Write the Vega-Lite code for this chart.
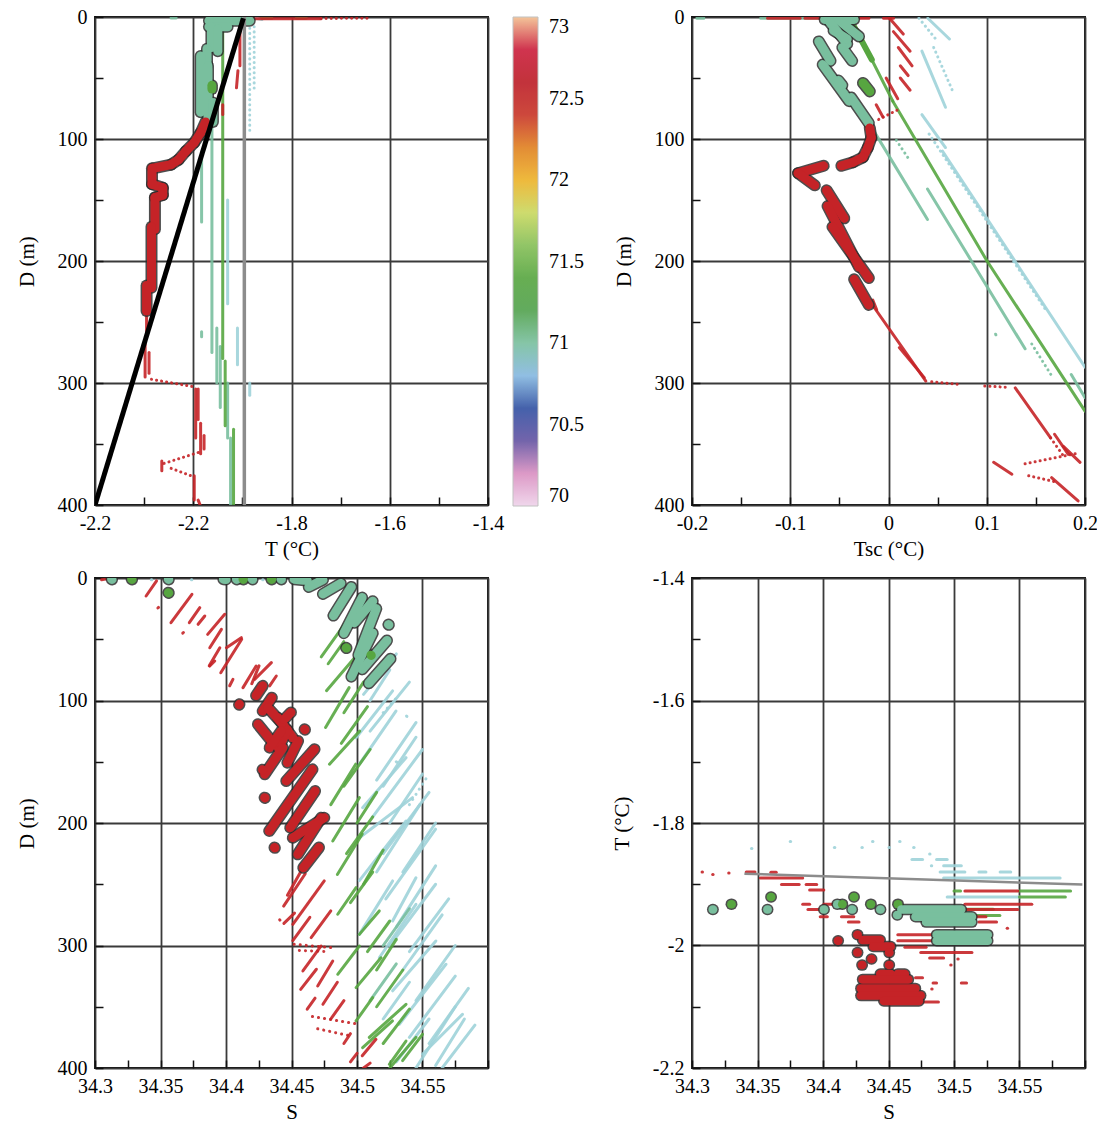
{
"$schema": "https://vega.github.io/schema/vega-lite/v6.json",
"background": "white",
"padding": {"left": 15, "top": 6, "right": 5, "bottom": 3},
"config": {
  "font": "Liberation Serif",
  "view": {"stroke": "black", "strokeWidth": 1.8},
  "axis": {"domain": false, "grid": true, "gridColor": "#3a3a3a", "gridWidth": 1.8, "ticks": true, "tickSize": -8, "tickColor": "#111", "tickWidth": 1.5, "labelFont": "Liberation Serif", "labelFontSize": 20, "labelColor": "black", "labelPadding": 16, "labelOverlap": false, "labelFlush": false, "titleFont": "Liberation Serif", "titleFontSize": 21, "titleFontWeight": "normal", "titleColor": "black"},
  "axisX": {"titlePadding": 5},
  "axisY": {"titlePadding": 20}
},
"datasets": {
"a": [
{"x":-1.896,"y":0,"x2":-1.896,"y2":400,"k":"freeze"},
{"x":-1.898,"y":1,"x2":-2.2,"y2":400,"k":"fit"},
{"x":-1.885,"y":5,"x2":-1.885,"y2":95,"v":70.9,"k":"dt"},
{"x":-1.876,"y":8,"x2":-1.876,"y2":60,"v":70.9,"k":"dt"},
{"x":-1.93,"y":150,"x2":-1.93,"y2":235,"v":70.9,"k":"s"},
{"x":-1.91,"y":255,"x2":-1.91,"y2":285,"v":70.9,"k":"s"},
{"x":-1.885,"y":300,"x2":-1.885,"y2":310,"v":70.9,"k":"s"},
{"x":-1.872,"y":1,"x2":-1.86,"y2":2,"v":70.9,"k":"s"},
{"x":-1.962,"y":90,"x2":-1.962,"y2":275,"v":71,"k":"s"},
{"x":-1.983,"y":112,"x2":-1.983,"y2":168,"v":71,"k":"s"},
{"x":-1.983,"y":258,"x2":-1.983,"y2":262,"v":71,"k":"s"},
{"x":-1.952,"y":255,"x2":-1.952,"y2":300,"v":71,"k":"s"},
{"x":-1.945,"y":270,"x2":-1.945,"y2":320,"v":71,"k":"s"},
{"x":-1.93,"y":300,"x2":-1.93,"y2":345,"v":71,"k":"s"},
{"x":-1.924,"y":345,"x2":-1.924,"y2":400,"v":71,"k":"s"},
{"x":-2.045,"y":0.8,"x2":-2.035,"y2":0.8,"v":71,"k":"s"},
{"x":-1.94,"y":8,"x2":-1.94,"y2":280,"v":71.4,"k":"s"},
{"x":-1.935,"y":282,"x2":-1.935,"y2":335,"v":71.4,"k":"s"},
{"x":-1.918,"y":338,"x2":-1.918,"y2":400,"v":71.4,"k":"s"},
{"x":-1.86,"y":1,"x2":-1.84,"y2":1,"v":71.4,"k":"s"},
{"x":-1.79,"y":1,"x2":-1.77,"y2":1,"v":71.4,"k":"s"},
{"x":-1.905,"y":4,"x2":-1.905,"y2":40,"v":72.5,"k":"s"},
{"x":-1.909,"y":44,"x2":-1.912,"y2":58,"v":72.5,"k":"s"},
{"x":-1.94,"y":72,"x2":-1.94,"y2":80,"v":72.5,"k":"s"},
{"x":-1.885,"y":1.5,"x2":-1.74,"y2":1.5,"v":72.5,"k":"s"},
{"x":-1.74,"y":1.2,"x2":-1.64,"y2":1,"v":72.5,"k":"dt"},
{"x":-2.095,"y":241,"x2":-2.095,"y2":262,"v":72.5,"k":"s"},
{"x":-2.098,"y":268,"x2":-2.098,"y2":295,"v":72.5,"k":"s"},
{"x":-2.09,"y":275,"x2":-2.09,"y2":292,"v":72.5,"k":"s"},
{"x":-2.085,"y":297,"x2":-2.0,"y2":303,"v":72.5,"k":"dt"},
{"x":-1.995,"y":305,"x2":-1.995,"y2":345,"v":72.5,"k":"s"},
{"x":-1.99,"y":305,"x2":-1.99,"y2":330,"v":72.5,"k":"s"},
{"x":-1.985,"y":333,"x2":-1.985,"y2":358,"v":72.5,"k":"s"},
{"x":-1.978,"y":343,"x2":-1.978,"y2":354,"v":72.5,"k":"s"},
{"x":-1.99,"y":357,"x2":-2.06,"y2":366,"v":72.5,"k":"dt"},
{"x":-2.064,"y":364,"x2":-2.064,"y2":372,"v":72.5,"k":"s"},
{"x":-2.045,"y":370,"x2":-1.998,"y2":377,"v":72.5,"k":"dt"},
{"x":-1.998,"y":376,"x2":-1.998,"y2":396,"v":72.5,"k":"s"},
{"x":-1.99,"y":396,"x2":-1.986,"y2":400,"v":72.5,"k":"s"},
{"x":-1.968,"y":3,"x2":-1.885,"y2":3,"v":71,"k":"b"},
{"x":-1.968,"y":8,"x2":-1.93,"y2":8,"v":71,"k":"b"},
{"x":-1.963,"y":8,"x2":-1.963,"y2":25,"v":71,"k":"b"},
{"x":-1.95,"y":10,"x2":-1.95,"y2":28,"v":71,"k":"b"},
{"x":-1.972,"y":26,"x2":-1.972,"y2":40,"v":71,"k":"b"},
{"x":-1.985,"y":32,"x2":-1.985,"y2":78,"v":71,"k":"b"},
{"x":-1.97,"y":40,"x2":-1.97,"y2":86,"v":71,"k":"b"},
{"x":-1.96,"y":70,"x2":-1.96,"y2":86,"v":71,"k":"b"},
{"x":-1.962,"y":56,"x2":-1.962,"y2":59,"v":71.4,"k":"b"},
{"x":-1.975,"y":86,"x2":-1.985,"y2":95,"v":72.5,"k":"b"},
{"x":-1.985,"y":95,"x2":-1.998,"y2":103,"v":72.5,"k":"b"},
{"x":-1.998,"y":103,"x2":-2.015,"y2":110,"v":72.5,"k":"b"},
{"x":-2.015,"y":110,"x2":-2.03,"y2":117,"v":72.5,"k":"b"},
{"x":-2.03,"y":117,"x2":-2.045,"y2":121,"v":72.5,"k":"b"},
{"x":-2.045,"y":121,"x2":-2.082,"y2":124,"v":72.5,"k":"b"},
{"x":-2.084,"y":124,"x2":-2.084,"y2":137,"v":72.5,"k":"b"},
{"x":-2.084,"y":137,"x2":-2.062,"y2":140,"v":72.5,"k":"b"},
{"x":-2.062,"y":140,"x2":-2.062,"y2":146,"v":72.5,"k":"b"},
{"x":-2.062,"y":146,"x2":-2.078,"y2":148,"v":72.5,"k":"b"},
{"x":-2.078,"y":148,"x2":-2.078,"y2":174,"v":72.5,"k":"b"},
{"x":-2.085,"y":172,"x2":-2.085,"y2":222,"v":72.5,"k":"b"},
{"x":-2.095,"y":220,"x2":-2.095,"y2":241,"v":72.5,"k":"b"}
],
"b": [
{"x":-0.195,"y":1,"x2":-0.188,"y2":1,"v":71,"k":"s"},
{"x":-0.13,"y":1,"x2":-0.07,"y2":1,"v":71,"k":"s"},
{"x":0.031,"y":1,"x2":0.05,"y2":20,"v":70.9,"k":"dt"},
{"x":0.04,"y":1,"x2":0.062,"y2":18,"v":70.9,"k":"s"},
{"x":0.034,"y":28,"x2":0.058,"y2":74,"v":70.9,"k":"s"},
{"x":0.046,"y":25,"x2":0.066,"y2":62,"v":70.9,"k":"dt"},
{"x":0.034,"y":80,"x2":0.058,"y2":107,"v":70.9,"k":"s"},
{"x":0.0549,"y":110,"x2":0.2,"y2":287,"v":70.9,"k":"s"},
{"x":0.0414,"y":96,"x2":0.16,"y2":240,"v":70.9,"k":"dt"},
{"x":-0.019,"y":88,"x2":0.0397,"y2":166,"v":71,"k":"s"},
{"x":0.0397,"y":141,"x2":0.139,"y2":272,"v":71,"k":"s"},
{"x":0.1458,"y":268,"x2":0.166,"y2":294,"v":71,"k":"dt"},
{"x":0.186,"y":293,"x2":0.2,"y2":312,"v":71,"k":"s"},
{"x":0.008,"y":101,"x2":0.022,"y2":118,"v":71,"k":"dt"},
{"x":0.109,"y":260,"x2":0.1093,"y2":260.5,"v":71,"k":"s"},
{"x":-0.037,"y":5,"x2":-0.017,"y2":35,"v":71.4,"k":"m"},
{"x":-0.017,"y":35,"x2":0.0044,"y2":69,"v":71.4,"k":"s"},
{"x":0.0044,"y":69,"x2":0.1003,"y2":200,"v":71.4,"k":"s"},
{"x":0.1003,"y":200,"x2":0.2,"y2":323,"v":71.4,"k":"s"},
{"x":-0.123,"y":1,"x2":-0.09,"y2":1,"v":72.5,"k":"s"},
{"x":-0.085,"y":1,"x2":-0.058,"y2":1,"v":72.5,"k":"s"},
{"x":-0.035,"y":1,"x2":-0.02,"y2":1,"v":72.5,"k":"s"},
{"x":-0.005,"y":1,"x2":0.005,"y2":1,"v":72.5,"k":"s"},
{"x":0.001,"y":1,"x2":0.015,"y2":14,"v":72.5,"k":"s"},
{"x":0.005,"y":12,"x2":0.022,"y2":28,"v":72.5,"k":"s"},
{"x":0.01,"y":25,"x2":0.024,"y2":40,"v":72.5,"k":"s"},
{"x":0.012,"y":40,"x2":0.02,"y2":48,"v":72.5,"k":"s"},
{"x":0.012,"y":50,"x2":0.022,"y2":60,"v":72.5,"k":"s"},
{"x":-0.0024,"y":50,"x2":0.0094,"y2":67,"v":72.5,"k":"s"},
{"x":-0.0125,"y":72,"x2":-0.0057,"y2":82,"v":72.5,"k":"s"},
{"x":-0.01,"y":84,"x2":0.012,"y2":75,"v":72.5,"k":"dt"},
{"x":-0.019,"y":233,"x2":0.038,"y2":298.4,"v":72.5,"k":"s"},
{"x":0.011,"y":271,"x2":0.0364,"y2":295.6,"v":72.5,"k":"s"},
{"x":-0.016,"y":232,"x2":-0.012,"y2":240,"v":72.5,"k":"s"},
{"x":0.044,"y":299,"x2":0.07,"y2":301,"v":72.5,"k":"dt"},
{"x":0.098,"y":302.5,"x2":0.121,"y2":303.5,"v":72.5,"k":"dt"},
{"x":0.129,"y":304,"x2":0.165,"y2":345,"v":72.5,"k":"s"},
{"x":0.165,"y":345,"x2":0.18,"y2":362,"v":72.5,"k":"dt"},
{"x":0.169,"y":342,"x2":0.183,"y2":358.5,"v":72.5,"k":"s"},
{"x":0.178,"y":352,"x2":0.195,"y2":365,"v":72.5,"k":"s"},
{"x":0.19,"y":358,"x2":0.136,"y2":366.7,"v":72.5,"k":"dt"},
{"x":0.107,"y":365,"x2":0.1256,"y2":374.8,"v":72.5,"k":"s"},
{"x":0.1427,"y":376,"x2":0.1697,"y2":381,"v":72.5,"k":"dt"},
{"x":0.166,"y":377.6,"x2":0.193,"y2":396.7,"v":72.5,"k":"s"},
{"x":-0.065,"y":2,"x2":-0.035,"y2":2,"v":71,"k":"b"},
{"x":-0.06,"y":4,"x2":-0.042,"y2":22,"v":71,"k":"b"},
{"x":-0.05,"y":3,"x2":-0.03,"y2":16,"v":71,"k":"b"},
{"x":-0.056,"y":11,"x2":-0.042,"y2":18,"v":71,"k":"b"},
{"x":-0.071,"y":20,"x2":-0.059,"y2":36,"v":71,"k":"b"},
{"x":-0.067,"y":39,"x2":-0.04,"y2":69,"v":71,"k":"b"},
{"x":-0.038,"y":66,"x2":-0.02,"y2":87,"v":71,"k":"b"},
{"x":-0.047,"y":25,"x2":-0.037,"y2":36,"v":71,"k":"b"},
{"x":-0.051,"y":52,"x2":-0.047,"y2":56,"v":71,"k":"b"},
{"x":-0.026,"y":54,"x2":-0.019,"y2":61,"v":71.4,"k":"b"},
{"x":-0.019,"y":91,"x2":-0.0175,"y2":99,"v":72.5,"k":"b"},
{"x":-0.0175,"y":99,"x2":-0.021,"y2":107,"v":72.5,"k":"b"},
{"x":-0.021,"y":107,"x2":-0.026,"y2":115,"v":72.5,"k":"b"},
{"x":-0.026,"y":115,"x2":-0.036,"y2":119,"v":72.5,"k":"b"},
{"x":-0.036,"y":119,"x2":-0.048,"y2":122,"v":72.5,"k":"b"},
{"x":-0.066,"y":122,"x2":-0.092,"y2":128,"v":72.5,"k":"b"},
{"x":-0.092,"y":128,"x2":-0.075,"y2":138,"v":72.5,"k":"b"},
{"x":-0.063,"y":142,"x2":-0.045,"y2":165,"v":72.5,"k":"b"},
{"x":-0.062,"y":155,"x2":-0.03,"y2":205,"v":72.5,"k":"b"},
{"x":-0.057,"y":172,"x2":-0.02,"y2":214,"v":72.5,"k":"b"},
{"x":-0.035,"y":215,"x2":-0.02,"y2":236,"v":72.5,"k":"b"}
],
"c": [
{"x":34.343,"y":1.5,"x2":34.3433,"y2":1.5,"v":70.9,"k":"s"},
{"x":34.3736,"y":1.5,"x2":34.3739,"y2":1.5,"v":70.9,"k":"s"},
{"x":34.428,"y":1.5,"x2":34.4283,"y2":1.5,"v":70.9,"k":"s"},
{"x":34.4993,"y":130.4,"x2":34.5272,"y2":92.2,"v":70.9,"k":"s"},
{"x":34.5018,"y":152,"x2":34.5297,"y2":108.6,"v":70.9,"k":"s"},
{"x":34.5043,"y":187.5,"x2":34.5374,"y2":146.7,"v":70.9,"k":"s"},
{"x":34.5018,"y":212,"x2":34.5424,"y2":179.3,"v":70.9,"k":"s"},
{"x":34.5018,"y":247,"x2":34.5374,"y2":198.4,"v":70.9,"k":"s"},
{"x":34.5272,"y":280,"x2":34.545,"y2":244.7,"v":70.9,"k":"s"},
{"x":34.5018,"y":290.9,"x2":34.5272,"y2":247.3,"v":70.9,"k":"s"},
{"x":34.517,"y":310,"x2":34.545,"y2":266.4,"v":70.9,"k":"s"},
{"x":34.5272,"y":337,"x2":34.5602,"y2":296.3,"v":70.9,"k":"s"},
{"x":34.5323,"y":364.3,"x2":34.5679,"y2":315.3,"v":70.9,"k":"s"},
{"x":34.55,"y":388.8,"x2":34.5805,"y2":356.2,"v":70.9,"k":"s"},
{"x":34.51,"y":100,"x2":34.525,"y2":75,"v":70.9,"k":"s"},
{"x":34.52,"y":110,"x2":34.53,"y2":98,"v":70.9,"k":"dt"},
{"x":34.525,"y":200,"x2":34.55,"y2":160,"v":70.9,"k":"s"},
{"x":34.53,"y":285,"x2":34.56,"y2":235,"v":70.9,"k":"s"},
{"x":34.535,"y":320,"x2":34.565,"y2":275,"v":70.9,"k":"s"},
{"x":34.545,"y":400,"x2":34.575,"y2":350,"v":70.9,"k":"s"},
{"x":34.56,"y":398,"x2":34.582,"y2":360,"v":70.9,"k":"s"},
{"x":34.515,"y":240,"x2":34.548,"y2":185,"v":70.9,"k":"s"},
{"x":34.52,"y":170,"x2":34.545,"y2":130,"v":70.9,"k":"s"},
{"x":34.505,"y":95,"x2":34.53,"y2":62,"v":70.9,"k":"s"},
{"x":34.51,"y":125,"x2":34.54,"y2":85,"v":70.9,"k":"s"},
{"x":34.515,"y":165,"x2":34.545,"y2":118,"v":70.9,"k":"s"},
{"x":34.512,"y":195,"x2":34.55,"y2":140,"v":70.9,"k":"s"},
{"x":34.52,"y":225,"x2":34.555,"y2":175,"v":70.9,"k":"s"},
{"x":34.522,"y":262,"x2":34.56,"y2":205,"v":70.9,"k":"s"},
{"x":34.525,"y":300,"x2":34.56,"y2":250,"v":70.9,"k":"s"},
{"x":34.54,"y":305,"x2":34.57,"y2":262,"v":70.9,"k":"s"},
{"x":34.545,"y":345,"x2":34.575,"y2":300,"v":70.9,"k":"s"},
{"x":34.54,"y":375,"x2":34.575,"y2":325,"v":70.9,"k":"s"},
{"x":34.555,"y":380,"x2":34.585,"y2":335,"v":70.9,"k":"s"},
{"x":34.565,"y":400,"x2":34.59,"y2":365,"v":70.9,"k":"s"},
{"x":34.53,"y":395,"x2":34.555,"y2":360,"v":70.9,"k":"s"},
{"x":34.52,"y":360,"x2":34.54,"y2":330,"v":70.9,"k":"s"},
{"x":34.535,"y":240,"x2":34.56,"y2":200,"v":70.9,"k":"s"},
{"x":34.54,"y":185,"x2":34.555,"y2":160,"v":70.9,"k":"dt"},
{"x":34.5378,"y":112.7,"x2":34.5381,"y2":113,"v":70.9,"k":"s"},
{"x":34.53,"y":150,"x2":34.5303,"y2":150.3,"v":70.9,"k":"s"},
{"x":34.51,"y":345,"x2":34.53,"y2":315,"v":71,"k":"s"},
{"x":34.52,"y":300,"x2":34.54,"y2":270,"v":71,"k":"s"},
{"x":34.4727,"y":64.4,"x2":34.4971,"y2":27.8,"v":71.4,"k":"s"},
{"x":34.4767,"y":92,"x2":34.5011,"y2":61.4,"v":71.4,"k":"s"},
{"x":34.476,"y":122,"x2":34.494,"y2":89.5,"v":71.4,"k":"s"},
{"x":34.479,"y":152,"x2":34.502,"y2":125,"v":71.4,"k":"s"},
{"x":34.48,"y":185,"x2":34.499,"y2":152,"v":71.4,"k":"s"},
{"x":34.4815,"y":214.7,"x2":34.5018,"y2":179.3,"v":71.4,"k":"s"},
{"x":34.485,"y":242,"x2":34.504,"y2":209,"v":71.4,"k":"s"},
{"x":34.4853,"y":274.5,"x2":34.4993,"y2":252.8,"v":71.4,"k":"s"},
{"x":34.5018,"y":290.9,"x2":34.517,"y2":271.8,"v":71.4,"k":"s"},
{"x":34.4853,"y":323.5,"x2":34.5018,"y2":300.4,"v":71.4,"k":"s"},
{"x":34.4993,"y":334.4,"x2":34.5183,"y2":310,"v":71.4,"k":"s"},
{"x":34.4993,"y":361.6,"x2":34.512,"y2":342.6,"v":71.4,"k":"s"},
{"x":34.5094,"y":375,"x2":34.5374,"y2":348,"v":71.4,"k":"s"},
{"x":34.5043,"y":383.4,"x2":34.5271,"y2":361.6,"v":71.4,"k":"s"},
{"x":34.5247,"y":397,"x2":34.5374,"y2":378,"v":71.4,"k":"s"},
{"x":34.5348,"y":394,"x2":34.55,"y2":372.5,"v":71.4,"k":"s"},
{"x":34.49,"y":110,"x2":34.505,"y2":85,"v":71.4,"k":"s"},
{"x":34.5,"y":200,"x2":34.515,"y2":175,"v":71.4,"k":"s"},
{"x":34.505,"y":250,"x2":34.52,"y2":222,"v":71.4,"k":"s"},
{"x":34.515,"y":320,"x2":34.53,"y2":295,"v":71.4,"k":"s"},
{"x":34.488,"y":135,"x2":34.508,"y2":105,"v":71.4,"k":"s"},
{"x":34.49,"y":170,"x2":34.51,"y2":140,"v":71.4,"k":"s"},
{"x":34.492,"y":225,"x2":34.512,"y2":195,"v":71.4,"k":"s"},
{"x":34.495,"y":265,"x2":34.512,"y2":240,"v":71.4,"k":"s"},
{"x":34.508,"y":305,"x2":34.525,"y2":280,"v":71.4,"k":"s"},
{"x":34.515,"y":350,"x2":34.535,"y2":320,"v":71.4,"k":"s"},
{"x":34.52,"y":380,"x2":34.54,"y2":352,"v":71.4,"k":"s"},
{"x":34.525,"y":400,"x2":34.545,"y2":375,"v":71.4,"k":"s"},
{"x":34.478,"y":70,"x2":34.49,"y2":52,"v":71.4,"k":"s"},
{"x":34.305,"y":1.5,"x2":34.31,"y2":0.5,"v":72.5,"k":"s"},
{"x":34.339,"y":14.7,"x2":34.347,"y2":2.4,"v":72.5,"k":"s"},
{"x":34.348,"y":24.5,"x2":34.3485,"y2":24,"v":72.5,"k":"s"},
{"x":34.358,"y":36.5,"x2":34.374,"y2":13.3,"v":72.5,"k":"s"},
{"x":34.367,"y":45,"x2":34.3675,"y2":44.5,"v":72.5,"k":"s"},
{"x":34.372,"y":36.5,"x2":34.38,"y2":24.2,"v":72.5,"k":"s"},
{"x":34.3787,"y":37.8,"x2":34.3838,"y2":31,"v":72.5,"k":"s"},
{"x":34.386,"y":46,"x2":34.399,"y2":29.6,"v":72.5,"k":"s"},
{"x":34.3876,"y":56.9,"x2":34.3965,"y2":41.9,"v":72.5,"k":"s"},
{"x":34.3876,"y":71.8,"x2":34.3914,"y2":67.8,"v":72.5,"k":"s"},
{"x":34.3872,"y":71.7,"x2":34.3953,"y2":57,"v":72.5,"k":"s"},
{"x":34.396,"y":77.3,"x2":34.412,"y2":50,"v":72.5,"k":"s"},
{"x":34.4003,"y":56.9,"x2":34.4117,"y2":48.7,"v":72.5,"k":"s"},
{"x":34.4028,"y":88,"x2":34.4053,"y2":82.7,"v":72.5,"k":"s"},
{"x":34.413,"y":89.5,"x2":34.423,"y2":71.8,"v":72.5,"k":"s"},
{"x":34.4197,"y":86.3,"x2":34.4252,"y2":71.7,"v":72.5,"k":"s"},
{"x":34.422,"y":82.7,"x2":34.4346,"y2":69.1,"v":72.5,"k":"s"},
{"x":34.4333,"y":88,"x2":34.4384,"y2":80,"v":72.5,"k":"s"},
{"x":34.4469,"y":259,"x2":34.4577,"y2":238.5,"v":72.5,"k":"s"},
{"x":34.444,"y":267.8,"x2":34.4605,"y2":241.4,"v":72.5,"k":"s"},
{"x":34.4442,"y":282,"x2":34.4523,"y2":273.6,"v":72.5,"k":"s"},
{"x":34.441,"y":279,"x2":34.4412,"y2":279.3,"v":72.5,"k":"s"},
{"x":34.451,"y":282.7,"x2":34.475,"y2":247.3,"v":72.5,"k":"s"},
{"x":34.451,"y":296,"x2":34.464,"y2":277,"v":72.5,"k":"s"},
{"x":34.465,"y":293.6,"x2":34.48,"y2":271.8,"v":72.5,"k":"s"},
{"x":34.4587,"y":320.8,"x2":34.4726,"y2":300.4,"v":72.5,"k":"s"},
{"x":34.457,"y":335.8,"x2":34.469,"y2":319.4,"v":72.5,"k":"s"},
{"x":34.47,"y":333,"x2":34.4815,"y2":312.7,"v":72.5,"k":"s"},
{"x":34.474,"y":348,"x2":34.485,"y2":330,"v":72.5,"k":"s"},
{"x":34.462,"y":352,"x2":34.468,"y2":343,"v":72.5,"k":"s"},
{"x":34.48,"y":360,"x2":34.49,"y2":345,"v":72.5,"k":"s"},
{"x":34.49,"y":380,"x2":34.495,"y2":372,"v":72.5,"k":"s"},
{"x":34.504,"y":390,"x2":34.5145,"y2":376.6,"v":72.5,"k":"s"},
{"x":34.495,"y":395,"x2":34.5,"y2":388,"v":72.5,"k":"s"},
{"x":34.505,"y":400,"x2":34.51,"y2":396,"v":72.5,"k":"s"},
{"x":34.452,"y":299,"x2":34.483,"y2":302,"v":72.5,"k":"dt"},
{"x":34.456,"y":304,"x2":34.478,"y2":305,"v":72.5,"k":"dt"},
{"x":34.466,"y":358,"x2":34.5,"y2":364,"v":72.5,"k":"dt"},
{"x":34.47,"y":368,"x2":34.496,"y2":374,"v":72.5,"k":"dt"},
{"x":34.3127,"y":1,"x2":34.313,"y2":1.2,"v":71,"k":"b"},
{"x":34.328,"y":1,"x2":34.3283,"y2":1.2,"v":71.4,"k":"b"},
{"x":34.356,"y":1,"x2":34.3563,"y2":1.2,"v":71,"k":"b"},
{"x":34.356,"y":12,"x2":34.3563,"y2":12.2,"v":71.4,"k":"b"},
{"x":34.398,"y":1,"x2":34.4,"y2":1.2,"v":71,"k":"b"},
{"x":34.408,"y":1,"x2":34.4083,"y2":1.2,"v":71,"k":"b"},
{"x":34.413,"y":1,"x2":34.4133,"y2":1.2,"v":71.4,"k":"b"},
{"x":34.42,"y":1,"x2":34.4203,"y2":1.2,"v":71,"k":"b"},
{"x":34.4346,"y":1,"x2":34.4349,"y2":1.2,"v":71.4,"k":"b"},
{"x":34.442,"y":1,"x2":34.4423,"y2":1.2,"v":71,"k":"b"},
{"x":34.452,"y":1,"x2":34.462,"y2":2,"v":71,"k":"b"},
{"x":34.4632,"y":7.3,"x2":34.474,"y2":1.5,"v":71,"k":"b"},
{"x":34.474,"y":13,"x2":34.4876,"y2":4.4,"v":71,"k":"b"},
{"x":34.482,"y":30.7,"x2":34.4957,"y2":7.3,"v":71,"k":"b"},
{"x":34.49,"y":45,"x2":34.5039,"y2":16,"v":71,"k":"b"},
{"x":34.498,"y":36.6,"x2":34.512,"y2":19,"v":71,"k":"b"},
{"x":34.501,"y":63,"x2":34.5147,"y2":25,"v":71,"k":"b"},
{"x":34.4957,"y":80.5,"x2":34.512,"y2":45,"v":71,"k":"b"},
{"x":34.504,"y":74.6,"x2":34.5229,"y2":51,"v":71,"k":"b"},
{"x":34.509,"y":86,"x2":34.5256,"y2":66,"v":71,"k":"b"},
{"x":34.524,"y":38,"x2":34.5243,"y2":38.2,"v":71,"k":"b"},
{"x":34.4917,"y":57,"x2":34.492,"y2":57.2,"v":71.4,"k":"b"},
{"x":34.5106,"y":63,"x2":34.5109,"y2":63.2,"v":71.4,"k":"b"},
{"x":34.423,"y":96,"x2":34.428,"y2":88,"v":72.5,"k":"b"},
{"x":34.41,"y":103.5,"x2":34.4103,"y2":103,"v":72.5,"k":"b"},
{"x":34.428,"y":108.6,"x2":34.435,"y2":97.7,"v":72.5,"k":"b"},
{"x":34.4244,"y":119.4,"x2":34.4358,"y2":134.4,"v":72.5,"k":"b"},
{"x":34.432,"y":105.9,"x2":34.4434,"y2":119.4,"v":72.5,"k":"b"},
{"x":34.4396,"y":114,"x2":34.451,"y2":130.4,"v":72.5,"k":"b"},
{"x":34.4442,"y":115.6,"x2":34.4496,"y2":109.7,"v":72.5,"k":"b"},
{"x":34.46,"y":123.5,"x2":34.4603,"y2":123.8,"v":72.5,"k":"b"},
{"x":34.44,"y":139,"x2":34.4469,"y2":124,"v":72.5,"k":"b"},
{"x":34.4469,"y":150.7,"x2":34.455,"y2":133,"v":72.5,"k":"b"},
{"x":34.4333,"y":138.5,"x2":34.4422,"y2":124.9,"v":72.5,"k":"b"},
{"x":34.4295,"y":160.2,"x2":34.4434,"y2":138.5,"v":72.5,"k":"b"},
{"x":34.446,"y":165.7,"x2":34.4676,"y2":139.8,"v":72.5,"k":"b"},
{"x":34.4295,"y":179.3,"x2":34.4298,"y2":179.5,"v":72.5,"k":"b"},
{"x":34.4279,"y":156.5,"x2":34.4282,"y2":156.7,"v":72.5,"k":"b"},
{"x":34.433,"y":206.5,"x2":34.466,"y2":156.2,"v":72.5,"k":"b"},
{"x":34.449,"y":203.8,"x2":34.468,"y2":173.9,"v":72.5,"k":"b"},
{"x":34.451,"y":212,"x2":34.475,"y2":195.7,"v":72.5,"k":"b"},
{"x":34.4548,"y":225.6,"x2":34.4727,"y2":195.7,"v":72.5,"k":"b"},
{"x":34.459,"y":236.5,"x2":34.471,"y2":220,"v":72.5,"k":"b"},
{"x":34.437,"y":220,"x2":34.4373,"y2":220.3,"v":72.5,"k":"b"}
],
"d": [
{"x":34.34,"y":-1.8828,"x2":34.598,"y2":-1.9004,"k":"freeze"},
{"x":34.3454,"y":-1.8418,"x2":34.3457,"y2":-1.8418,"v":70.9,"k":"s"},
{"x":34.375,"y":-1.83,"x2":34.3753,"y2":-1.83,"v":70.9,"k":"s"},
{"x":34.4087,"y":-1.84,"x2":34.409,"y2":-1.84,"v":70.9,"k":"s"},
{"x":34.4297,"y":-1.84,"x2":34.43,"y2":-1.84,"v":70.9,"k":"s"},
{"x":34.4378,"y":-1.83,"x2":34.4381,"y2":-1.83,"v":70.9,"k":"s"},
{"x":34.4504,"y":-1.84,"x2":34.4507,"y2":-1.84,"v":70.9,"k":"s"},
{"x":34.4585,"y":-1.83,"x2":34.4588,"y2":-1.83,"v":70.9,"k":"s"},
{"x":34.4692,"y":-1.84,"x2":34.4695,"y2":-1.84,"v":70.9,"k":"s"},
{"x":34.4814,"y":-1.8506,"x2":34.4817,"y2":-1.8506,"v":70.9,"k":"s"},
{"x":34.4827,"y":-1.8699,"x2":34.483,"y2":-1.8699,"v":70.9,"k":"s"},
{"x":34.4679,"y":-1.8594,"x2":34.476,"y2":-1.8594,"v":70.9,"k":"s"},
{"x":34.4867,"y":-1.8594,"x2":34.4948,"y2":-1.8594,"v":70.9,"k":"s"},
{"x":34.4921,"y":-1.8699,"x2":34.5056,"y2":-1.8699,"v":70.9,"k":"s"},
{"x":34.4894,"y":-1.8799,"x2":34.5083,"y2":-1.8799,"v":70.9,"k":"s"},
{"x":34.519,"y":-1.8799,"x2":34.5244,"y2":-1.8799,"v":70.9,"k":"s"},
{"x":34.5352,"y":-1.8799,"x2":34.5433,"y2":-1.8799,"v":70.9,"k":"s"},
{"x":34.4921,"y":-1.8898,"x2":34.581,"y2":-1.8898,"v":70.9,"k":"s"},
{"x":34.4948,"y":-1.9208,"x2":34.55,"y2":-1.9208,"v":70.9,"k":"s"},
{"x":34.5,"y":-1.911,"x2":34.505,"y2":-1.911,"v":71.4,"k":"s"},
{"x":34.55,"y":-1.911,"x2":34.589,"y2":-1.911,"v":71.4,"k":"s"},
{"x":34.55,"y":-1.9208,"x2":34.585,"y2":-1.9208,"v":71.4,"k":"s"},
{"x":34.48,"y":-1.941,"x2":34.53,"y2":-1.941,"v":71.4,"k":"s"},
{"x":34.515,"y":-1.951,"x2":34.535,"y2":-1.951,"v":71.4,"k":"s"},
{"x":34.3077,"y":-1.8799,"x2":34.308,"y2":-1.8799,"v":72.5,"k":"s"},
{"x":34.3158,"y":-1.884,"x2":34.3161,"y2":-1.884,"v":72.5,"k":"s"},
{"x":34.328,"y":-1.8816,"x2":34.3283,"y2":-1.8816,"v":72.5,"k":"s"},
{"x":34.3414,"y":-1.8799,"x2":34.3481,"y2":-1.8799,"v":72.5,"k":"s"},
{"x":34.3602,"y":-1.8805,"x2":34.3643,"y2":-1.8805,"v":72.5,"k":"s"},
{"x":34.3522,"y":-1.8898,"x2":34.3845,"y2":-1.8898,"v":72.5,"k":"s"},
{"x":34.3683,"y":-1.9004,"x2":34.3818,"y2":-1.9004,"v":72.5,"k":"s"},
{"x":34.3871,"y":-1.9004,"x2":34.3952,"y2":-1.9004,"v":72.5,"k":"s"},
{"x":34.3898,"y":-1.9092,"x2":34.4006,"y2":-1.9092,"v":72.5,"k":"s"},
{"x":34.3845,"y":-1.9325,"x2":34.3898,"y2":-1.9325,"v":72.5,"k":"s"},
{"x":34.3885,"y":-1.9413,"x2":34.3979,"y2":-1.9413,"v":72.5,"k":"s"},
{"x":34.3979,"y":-1.953,"x2":34.4033,"y2":-1.953,"v":72.5,"k":"s"},
{"x":34.4141,"y":-1.953,"x2":34.4235,"y2":-1.953,"v":72.5,"k":"s"},
{"x":34.4006,"y":-1.9325,"x2":34.4087,"y2":-1.9325,"v":72.5,"k":"s"},
{"x":34.4194,"y":-1.9618,"x2":34.4275,"y2":-1.9618,"v":72.5,"k":"s"},
{"x":34.5083,"y":-1.9109,"x2":34.5487,"y2":-1.9109,"v":72.5,"k":"s"},
{"x":34.5083,"y":-1.9325,"x2":34.5594,"y2":-1.9325,"v":72.5,"k":"s"},
{"x":34.484,"y":-1.9413,"x2":34.5487,"y2":-1.9413,"v":72.5,"k":"s"},
{"x":34.5164,"y":-1.953,"x2":34.5244,"y2":-1.953,"v":72.5,"k":"s"},
{"x":34.519,"y":-1.9618,"x2":34.5325,"y2":-1.9618,"v":72.5,"k":"s"},
{"x":34.5406,"y":-1.9718,"x2":34.5409,"y2":-1.9718,"v":72.5,"k":"s"},
{"x":34.4571,"y":-1.9823,"x2":34.484,"y2":-1.9823,"v":72.5,"k":"s"},
{"x":34.4571,"y":-1.9922,"x2":34.4975,"y2":-1.9922,"v":72.5,"k":"s"},
{"x":34.4625,"y":-2.0028,"x2":34.4787,"y2":-2.0028,"v":72.5,"k":"s"},
{"x":34.4746,"y":-2.0116,"x2":34.5137,"y2":-2.0116,"v":72.5,"k":"s"},
{"x":34.4814,"y":-2.0203,"x2":34.4921,"y2":-2.0203,"v":72.5,"k":"s"},
{"x":34.5029,"y":-2.0221,"x2":34.5032,"y2":-2.0221,"v":72.5,"k":"s"},
{"x":34.4975,"y":-2.032,"x2":34.4978,"y2":-2.032,"v":72.5,"k":"s"},
{"x":34.4706,"y":-2.0525,"x2":34.476,"y2":-2.0525,"v":72.5,"k":"s"},
{"x":34.484,"y":-2.0613,"x2":34.4867,"y2":-2.0613,"v":72.5,"k":"s"},
{"x":34.5056,"y":-2.0613,"x2":34.5096,"y2":-2.0613,"v":72.5,"k":"s"},
{"x":34.483,"y":-2.0712,"x2":34.4833,"y2":-2.0712,"v":72.5,"k":"s"},
{"x":34.4464,"y":-2.0923,"x2":34.4881,"y2":-2.0923,"v":72.5,"k":"s"},
{"x":34.3158,"y":-1.9413,"x2":34.3161,"y2":-1.9413,"v":71,"k":"b"},
{"x":34.33,"y":-1.9325,"x2":34.3303,"y2":-1.9325,"v":71.4,"k":"b"},
{"x":34.3575,"y":-1.9413,"x2":34.3578,"y2":-1.9413,"v":71,"k":"b"},
{"x":34.3602,"y":-1.9208,"x2":34.3605,"y2":-1.9208,"v":71.4,"k":"b"},
{"x":34.4006,"y":-1.9413,"x2":34.4009,"y2":-1.9413,"v":71,"k":"b"},
{"x":34.4108,"y":-1.9325,"x2":34.4111,"y2":-1.9325,"v":71,"k":"b"},
{"x":34.4146,"y":-1.9325,"x2":34.4149,"y2":-1.9325,"v":71.4,"k":"b"},
{"x":34.4221,"y":-1.9413,"x2":34.4224,"y2":-1.9413,"v":71,"k":"b"},
{"x":34.4235,"y":-1.9208,"x2":34.4238,"y2":-1.9208,"v":71.4,"k":"b"},
{"x":34.4364,"y":-1.9325,"x2":34.4367,"y2":-1.9325,"v":71.4,"k":"b"},
{"x":34.4437,"y":-1.9413,"x2":34.444,"y2":-1.9413,"v":71,"k":"b"},
{"x":34.4571,"y":-1.9325,"x2":34.4574,"y2":-1.9325,"v":71.4,"k":"b"},
{"x":34.4566,"y":-1.9501,"x2":34.4569,"y2":-1.9501,"v":71,"k":"b"},
{"x":34.4598,"y":-1.9413,"x2":34.5056,"y2":-1.9413,"v":71,"k":"b"},
{"x":34.4706,"y":-1.953,"x2":34.5137,"y2":-1.953,"v":71,"k":"b"},
{"x":34.4787,"y":-1.9618,"x2":34.5137,"y2":-1.9618,"v":71,"k":"b"},
{"x":34.4867,"y":-1.9823,"x2":34.5258,"y2":-1.9823,"v":71,"k":"b"},
{"x":34.4867,"y":-1.9922,"x2":34.5258,"y2":-1.9922,"v":71,"k":"b"},
{"x":34.4114,"y":-1.9922,"x2":34.4117,"y2":-1.9922,"v":72.5,"k":"b"},
{"x":34.4262,"y":-1.9823,"x2":34.4265,"y2":-1.9823,"v":72.5,"k":"b"},
{"x":34.4302,"y":-1.9911,"x2":34.4437,"y2":-1.9911,"v":72.5,"k":"b"},
{"x":34.4383,"y":-2.0016,"x2":34.4517,"y2":-2.0016,"v":72.5,"k":"b"},
{"x":34.4369,"y":-2.0221,"x2":34.4372,"y2":-2.0221,"v":72.5,"k":"b"},
{"x":34.4262,"y":-2.0116,"x2":34.4265,"y2":-2.0116,"v":72.5,"k":"b"},
{"x":34.4297,"y":-2.032,"x2":34.43,"y2":-2.032,"v":72.5,"k":"b"},
{"x":34.4504,"y":-2.032,"x2":34.4507,"y2":-2.032,"v":72.5,"k":"b"},
{"x":34.4504,"y":-2.0116,"x2":34.4507,"y2":-2.0116,"v":72.5,"k":"b"},
{"x":34.4437,"y":-2.0467,"x2":34.4517,"y2":-2.0467,"v":72.5,"k":"b"},
{"x":34.457,"y":-2.0467,"x2":34.4625,"y2":-2.0467,"v":72.5,"k":"b"},
{"x":34.4302,"y":-2.0554,"x2":34.4652,"y2":-2.0554,"v":72.5,"k":"b"},
{"x":34.4289,"y":-2.0701,"x2":34.4706,"y2":-2.0701,"v":72.5,"k":"b"},
{"x":34.4289,"y":-2.0818,"x2":34.4746,"y2":-2.0818,"v":72.5,"k":"b"},
{"x":34.4464,"y":-2.0906,"x2":34.4733,"y2":-2.0906,"v":72.5,"k":"b"}
]
},
"columns": 2,
"spacing": {"row": 73, "column": 204},
"bounds": "flush",
"resolve": {"scale": {"color": "independent"}, "legend": {"color": "independent"}},
"concat": [
{
 "width": 393, "height": 488,
 "data": {"name": "a"},
 "encoding": {
  "x": {"field": "x", "type": "quantitative", "scale": {"domain": [-2.2, -1.4], "nice": false, "zero": false},
   "axis": {"title": "T (°C)", "values": [-2.2,-2.1,-2,-1.9,-1.8,-1.7,-1.6,-1.5,-1.4],
    "labelExpr": "round(datum.value*10)%2!==0 ? '' : (round(datum.value*10)===-20 ? '-2.2' : replace(format(datum.value,'.1f'),'−','-'))",
    "gridOpacity": {"condition": {"test": "round(datum.value*10)%2!==0", "value": 0}, "value": 1}}},
  "y": {"field": "y", "type": "quantitative", "scale": {"domain": [0, 400], "reverse": true, "nice": false, "zero": false},
   "axis": {"title": "D (m)", "values": [0,50,100,150,200,250,300,350,400],
    "labelExpr": "datum.value%100!==0 ? '' : datum.label",
    "gridOpacity": {"condition": {"test": "datum.value%100!==0", "value": 0}, "value": 1}}}
 },
 "layer": [
  {"transform": [{"filter": "datum.k==='s'"}], "mark": {"type": "rule", "strokeWidth": 3, "strokeCap": "round", "opacity": 0.9, "clip": true},
   "encoding": {"x2": {"field": "x2"}, "y2": {"field": "y2"}, "color": {"field": "v", "type": "quantitative",
    "scale": {"type": "linear", "domain": [70,70.1,70.2,70.32,70.41,70.51,70.61,70.72,70.82,70.9,71.0,71.11,71.25,71.45,71.66,71.8,71.91,72.03,72.2,72.32,72.41,72.53,72.7,72.82,72.91,73], "range": ["#efd3ea","#b24f9c","#d98fc1","#a593c6","#5c4c9d","#2e4896","#3152a3","#5b82c8","#8fc5e6","#9fd3d9","#79bf9e","#58a870","#4e9e3a","#5aa842","#98c860","#c9d85f","#e8d040","#eea820","#e08020","#c85a28","#c83028","#c41e26","#b01c28","#d02040","#e07068","#f3bf8f"], "interpolate": "rgb"},
    "legend": {"orient": "right", "offset": 25, "title": null, "direction": "vertical", "gradientLength": 489, "gradientThickness": 25, "values": [70,70.5,71,71.5,72,72.5,73], "labelExpr": "format(datum.value,'~g')", "labelFont": "Liberation Serif", "labelFontSize": 20, "labelColor": "black", "labelOffset": 11, "labelBaseline": "middle", "gradientStrokeColor": "#bbbbbb", "gradientStrokeWidth": 1}}}},
  {"transform": [{"filter": "datum.k==='dt'"}], "mark": {"type": "rule", "strokeWidth": 3, "strokeCap": "round", "strokeDash": [0.1, 5], "opacity": 0.9, "clip": true},
   "encoding": {"x2": {"field": "x2"}, "y2": {"field": "y2"}, "color": {"field": "v", "type": "quantitative",
    "scale": {"type": "linear", "domain": [70,70.1,70.2,70.32,70.41,70.51,70.61,70.72,70.82,70.9,71.0,71.11,71.25,71.45,71.66,71.8,71.91,72.03,72.2,72.32,72.41,72.53,72.7,72.82,72.91,73], "range": ["#efd3ea","#b24f9c","#d98fc1","#a593c6","#5c4c9d","#2e4896","#3152a3","#5b82c8","#8fc5e6","#9fd3d9","#79bf9e","#58a870","#4e9e3a","#5aa842","#98c860","#c9d85f","#e8d040","#eea820","#e08020","#c85a28","#c83028","#c41e26","#b01c28","#d02040","#e07068","#f3bf8f"], "interpolate": "rgb"},
    "legend": {"orient": "right", "offset": 25, "title": null, "direction": "vertical", "gradientLength": 489, "gradientThickness": 25, "values": [70,70.5,71,71.5,72,72.5,73], "labelExpr": "format(datum.value,'~g')", "labelFont": "Liberation Serif", "labelFontSize": 20, "labelColor": "black", "labelOffset": 11, "labelBaseline": "middle", "gradientStrokeColor": "#bbbbbb", "gradientStrokeWidth": 1}}}},
  {"transform": [{"filter": "datum.k==='b'"}], "mark": {"type": "rule", "strokeWidth": 12, "strokeCap": "round", "color": "#2e2e2e", "opacity": 0.85, "clip": true},
   "encoding": {"x2": {"field": "x2"}, "y2": {"field": "y2"}}},
  {"transform": [{"filter": "datum.k==='b'"}], "mark": {"type": "rule", "strokeWidth": 9, "strokeCap": "round", "clip": true},
   "encoding": {"x2": {"field": "x2"}, "y2": {"field": "y2"}, "color": {"field": "v", "type": "quantitative",
    "scale": {"type": "linear", "domain": [70,70.1,70.2,70.32,70.41,70.51,70.61,70.72,70.82,70.9,71.0,71.11,71.25,71.45,71.66,71.8,71.91,72.03,72.2,72.32,72.41,72.53,72.7,72.82,72.91,73], "range": ["#efd3ea","#b24f9c","#d98fc1","#a593c6","#5c4c9d","#2e4896","#3152a3","#5b82c8","#8fc5e6","#9fd3d9","#79bf9e","#58a870","#4e9e3a","#5aa842","#98c860","#c9d85f","#e8d040","#eea820","#e08020","#c85a28","#c83028","#c41e26","#b01c28","#d02040","#e07068","#f3bf8f"], "interpolate": "rgb"},
    "legend": {"orient": "right", "offset": 25, "title": null, "direction": "vertical", "gradientLength": 489, "gradientThickness": 25, "values": [70,70.5,71,71.5,72,72.5,73], "labelExpr": "format(datum.value,'~g')", "labelFont": "Liberation Serif", "labelFontSize": 20, "labelColor": "black", "labelOffset": 11, "labelBaseline": "middle", "gradientStrokeColor": "#bbbbbb", "gradientStrokeWidth": 1}}}},
  {"transform": [{"filter": "datum.k==='freeze'"}], "mark": {"type": "rule", "strokeWidth": 3.5, "color": "#8c8c8c", "clip": true},
   "encoding": {"x2": {"field": "x2"}, "y2": {"field": "y2"}}},
  {"transform": [{"filter": "datum.k==='fit'"}], "mark": {"type": "rule", "strokeWidth": 5, "color": "black", "clip": true},
   "encoding": {"x2": {"field": "x2"}, "y2": {"field": "y2"}}},
  {"data": {"values": [{"t": "a"}]}, "mark": {"type": "text", "font": "Liberation Serif", "fontSize": 21, "color": "black"},
   "encoding": {"x": {"datum": -2.145}, "y": {"datum": 20}, "text": {"field": "t"}}}
 ]
},
{
 "width": 393, "height": 488,
 "data": {"name": "b"},
 "encoding": {
  "x": {"field": "x", "type": "quantitative", "scale": {"domain": [-0.2, 0.2], "nice": false, "zero": false},
   "axis": {"title": "Tsc (°C)", "values": [-0.2,-0.15,-0.1,-0.05,0,0.05,0.1,0.15,0.2],
    "labelExpr": "round(datum.value*20)%2!==0 ? '' : replace(format(datum.value,'~g'),'−','-')",
    "gridOpacity": {"condition": {"test": "round(datum.value*20)%2!==0", "value": 0}, "value": 1}}},
  "y": {"field": "y", "type": "quantitative", "scale": {"domain": [0, 400], "reverse": true, "nice": false, "zero": false},
   "axis": {"title": "D (m)", "values": [0,50,100,150,200,250,300,350,400],
    "labelExpr": "datum.value%100!==0 ? '' : datum.label",
    "gridOpacity": {"condition": {"test": "datum.value%100!==0", "value": 0}, "value": 1}}}
 },
 "layer": [
  {"transform": [{"filter": "datum.k==='s'"}], "mark": {"type": "rule", "strokeWidth": 3, "strokeCap": "round", "opacity": 0.9, "clip": true},
   "encoding": {"x2": {"field": "x2"}, "y2": {"field": "y2"}, "color": {"field": "v", "type": "quantitative",
    "scale": {"type": "linear", "domain": [70,70.1,70.2,70.32,70.41,70.51,70.61,70.72,70.82,70.9,71.0,71.11,71.25,71.45,71.66,71.8,71.91,72.03,72.2,72.32,72.41,72.53,72.7,72.82,72.91,73], "range": ["#efd3ea","#b24f9c","#d98fc1","#a593c6","#5c4c9d","#2e4896","#3152a3","#5b82c8","#8fc5e6","#9fd3d9","#79bf9e","#58a870","#4e9e3a","#5aa842","#98c860","#c9d85f","#e8d040","#eea820","#e08020","#c85a28","#c83028","#c41e26","#b01c28","#d02040","#e07068","#f3bf8f"], "interpolate": "rgb"}, "legend": null}}},
  {"transform": [{"filter": "datum.k==='dt'"}], "mark": {"type": "rule", "strokeWidth": 3, "strokeCap": "round", "strokeDash": [0.1, 5], "opacity": 0.9, "clip": true},
   "encoding": {"x2": {"field": "x2"}, "y2": {"field": "y2"}, "color": {"field": "v", "type": "quantitative",
    "scale": {"type": "linear", "domain": [70,70.1,70.2,70.32,70.41,70.51,70.61,70.72,70.82,70.9,71.0,71.11,71.25,71.45,71.66,71.8,71.91,72.03,72.2,72.32,72.41,72.53,72.7,72.82,72.91,73], "range": ["#efd3ea","#b24f9c","#d98fc1","#a593c6","#5c4c9d","#2e4896","#3152a3","#5b82c8","#8fc5e6","#9fd3d9","#79bf9e","#58a870","#4e9e3a","#5aa842","#98c860","#c9d85f","#e8d040","#eea820","#e08020","#c85a28","#c83028","#c41e26","#b01c28","#d02040","#e07068","#f3bf8f"], "interpolate": "rgb"}, "legend": null}}},
  {"transform": [{"filter": "datum.k==='m'"}], "mark": {"type": "rule", "strokeWidth": 6, "strokeCap": "round", "clip": true},
   "encoding": {"x2": {"field": "x2"}, "y2": {"field": "y2"}, "color": {"field": "v", "type": "quantitative",
    "scale": {"type": "linear", "domain": [70,70.1,70.2,70.32,70.41,70.51,70.61,70.72,70.82,70.9,71.0,71.11,71.25,71.45,71.66,71.8,71.91,72.03,72.2,72.32,72.41,72.53,72.7,72.82,72.91,73], "range": ["#efd3ea","#b24f9c","#d98fc1","#a593c6","#5c4c9d","#2e4896","#3152a3","#5b82c8","#8fc5e6","#9fd3d9","#79bf9e","#58a870","#4e9e3a","#5aa842","#98c860","#c9d85f","#e8d040","#eea820","#e08020","#c85a28","#c83028","#c41e26","#b01c28","#d02040","#e07068","#f3bf8f"], "interpolate": "rgb"}, "legend": null}}},
  {"transform": [{"filter": "datum.k==='b'"}], "mark": {"type": "rule", "strokeWidth": 12, "strokeCap": "round", "color": "#2e2e2e", "opacity": 0.85, "clip": true},
   "encoding": {"x2": {"field": "x2"}, "y2": {"field": "y2"}}},
  {"transform": [{"filter": "datum.k==='b'"}], "mark": {"type": "rule", "strokeWidth": 9, "strokeCap": "round", "clip": true},
   "encoding": {"x2": {"field": "x2"}, "y2": {"field": "y2"}, "color": {"field": "v", "type": "quantitative",
    "scale": {"type": "linear", "domain": [70,70.1,70.2,70.32,70.41,70.51,70.61,70.72,70.82,70.9,71.0,71.11,71.25,71.45,71.66,71.8,71.91,72.03,72.2,72.32,72.41,72.53,72.7,72.82,72.91,73], "range": ["#efd3ea","#b24f9c","#d98fc1","#a593c6","#5c4c9d","#2e4896","#3152a3","#5b82c8","#8fc5e6","#9fd3d9","#79bf9e","#58a870","#4e9e3a","#5aa842","#98c860","#c9d85f","#e8d040","#eea820","#e08020","#c85a28","#c83028","#c41e26","#b01c28","#d02040","#e07068","#f3bf8f"], "interpolate": "rgb"}, "legend": null}}},
  {"data": {"values": [{"t": "b"}]}, "mark": {"type": "text", "font": "Liberation Serif", "fontSize": 21, "color": "black"},
   "encoding": {"x": {"datum": -0.167}, "y": {"datum": 20}, "text": {"field": "t"}}}
 ]
},
{
 "width": 393, "height": 490,
 "data": {"name": "c"},
 "encoding": {
  "x": {"field": "x", "type": "quantitative", "scale": {"domain": [34.3, 34.6], "nice": false, "zero": false},
   "axis": {"title": "S", "values": [34.3,34.325,34.35,34.375,34.4,34.425,34.45,34.475,34.5,34.525,34.55,34.575,34.6],
    "labelExpr": "(round(datum.value*40)%2!==0 || datum.value>34.58) ? '' : format(datum.value,'~g')",
    "gridOpacity": {"condition": {"test": "round(datum.value*40)%2!==0", "value": 0}, "value": 1}}},
  "y": {"field": "y", "type": "quantitative", "scale": {"domain": [0, 400], "reverse": true, "nice": false, "zero": false},
   "axis": {"title": "D (m)", "values": [0,50,100,150,200,250,300,350,400],
    "labelExpr": "datum.value%100!==0 ? '' : datum.label",
    "gridOpacity": {"condition": {"test": "datum.value%100!==0", "value": 0}, "value": 1}}}
 },
 "layer": [
  {"transform": [{"filter": "datum.k==='s'"}], "mark": {"type": "rule", "strokeWidth": 3, "strokeCap": "round", "opacity": 0.9, "clip": true},
   "encoding": {"x2": {"field": "x2"}, "y2": {"field": "y2"}, "color": {"field": "v", "type": "quantitative",
    "scale": {"type": "linear", "domain": [70,70.1,70.2,70.32,70.41,70.51,70.61,70.72,70.82,70.9,71.0,71.11,71.25,71.45,71.66,71.8,71.91,72.03,72.2,72.32,72.41,72.53,72.7,72.82,72.91,73], "range": ["#efd3ea","#b24f9c","#d98fc1","#a593c6","#5c4c9d","#2e4896","#3152a3","#5b82c8","#8fc5e6","#9fd3d9","#79bf9e","#58a870","#4e9e3a","#5aa842","#98c860","#c9d85f","#e8d040","#eea820","#e08020","#c85a28","#c83028","#c41e26","#b01c28","#d02040","#e07068","#f3bf8f"], "interpolate": "rgb"}, "legend": null}}},
  {"transform": [{"filter": "datum.k==='dt'"}], "mark": {"type": "rule", "strokeWidth": 3, "strokeCap": "round", "strokeDash": [0.1, 6], "opacity": 0.9, "clip": true},
   "encoding": {"x2": {"field": "x2"}, "y2": {"field": "y2"}, "color": {"field": "v", "type": "quantitative",
    "scale": {"type": "linear", "domain": [70,70.1,70.2,70.32,70.41,70.51,70.61,70.72,70.82,70.9,71.0,71.11,71.25,71.45,71.66,71.8,71.91,72.03,72.2,72.32,72.41,72.53,72.7,72.82,72.91,73], "range": ["#efd3ea","#b24f9c","#d98fc1","#a593c6","#5c4c9d","#2e4896","#3152a3","#5b82c8","#8fc5e6","#9fd3d9","#79bf9e","#58a870","#4e9e3a","#5aa842","#98c860","#c9d85f","#e8d040","#eea820","#e08020","#c85a28","#c83028","#c41e26","#b01c28","#d02040","#e07068","#f3bf8f"], "interpolate": "rgb"}, "legend": null}}},
  {"transform": [{"filter": "datum.k==='b'"}], "mark": {"type": "rule", "strokeWidth": 12, "strokeCap": "round", "color": "#2e2e2e", "opacity": 0.85, "clip": true},
   "encoding": {"x2": {"field": "x2"}, "y2": {"field": "y2"}}},
  {"transform": [{"filter": "datum.k==='b'"}], "mark": {"type": "rule", "strokeWidth": 9, "strokeCap": "round", "clip": true},
   "encoding": {"x2": {"field": "x2"}, "y2": {"field": "y2"}, "color": {"field": "v", "type": "quantitative",
    "scale": {"type": "linear", "domain": [70,70.1,70.2,70.32,70.41,70.51,70.61,70.72,70.82,70.9,71.0,71.11,71.25,71.45,71.66,71.8,71.91,72.03,72.2,72.32,72.41,72.53,72.7,72.82,72.91,73], "range": ["#efd3ea","#b24f9c","#d98fc1","#a593c6","#5c4c9d","#2e4896","#3152a3","#5b82c8","#8fc5e6","#9fd3d9","#79bf9e","#58a870","#4e9e3a","#5aa842","#98c860","#c9d85f","#e8d040","#eea820","#e08020","#c85a28","#c83028","#c41e26","#b01c28","#d02040","#e07068","#f3bf8f"], "interpolate": "rgb"}, "legend": null}}},
  {"data": {"values": [{"t": "c"}]}, "mark": {"type": "text", "font": "Liberation Serif", "fontSize": 21, "color": "black"},
   "encoding": {"x": {"datum": 34.322}, "y": {"datum": 21}, "text": {"field": "t"}}}
 ]
},
{
 "width": 393, "height": 490,
 "data": {"name": "d"},
 "encoding": {
  "x": {"field": "x", "type": "quantitative", "scale": {"domain": [34.3, 34.6], "nice": false, "zero": false},
   "axis": {"title": "S", "values": [34.3,34.325,34.35,34.375,34.4,34.425,34.45,34.475,34.5,34.525,34.55,34.575,34.6],
    "labelExpr": "(round(datum.value*40)%2!==0 || datum.value>34.58) ? '' : format(datum.value,'~g')",
    "gridOpacity": {"condition": {"test": "round(datum.value*40)%2!==0", "value": 0}, "value": 1}}},
  "y": {"field": "y", "type": "quantitative", "scale": {"domain": [-2.2, -1.4], "nice": false, "zero": false},
   "axis": {"title": "T (°C)", "values": [-2.2,-2.1,-2,-1.9,-1.8,-1.7,-1.6,-1.5,-1.4],
    "labelExpr": "round(datum.value*10)%2!==0 ? '' : replace(format(datum.value,'~g'),'−','-')",
    "gridOpacity": {"condition": {"test": "round(datum.value*10)%2!==0", "value": 0}, "value": 1}}}
 },
 "layer": [
  {"transform": [{"filter": "datum.k==='s'"}], "mark": {"type": "rule", "strokeWidth": 3, "strokeCap": "round", "opacity": 0.9, "clip": true},
   "encoding": {"x2": {"field": "x2"}, "y2": {"field": "y2"}, "color": {"field": "v", "type": "quantitative",
    "scale": {"type": "linear", "domain": [70,70.1,70.2,70.32,70.41,70.51,70.61,70.72,70.82,70.9,71.0,71.11,71.25,71.45,71.66,71.8,71.91,72.03,72.2,72.32,72.41,72.53,72.7,72.82,72.91,73], "range": ["#efd3ea","#b24f9c","#d98fc1","#a593c6","#5c4c9d","#2e4896","#3152a3","#5b82c8","#8fc5e6","#9fd3d9","#79bf9e","#58a870","#4e9e3a","#5aa842","#98c860","#c9d85f","#e8d040","#eea820","#e08020","#c85a28","#c83028","#c41e26","#b01c28","#d02040","#e07068","#f3bf8f"], "interpolate": "rgb"}, "legend": null}}},
  {"transform": [{"filter": "datum.k==='b'"}], "mark": {"type": "rule", "strokeWidth": 11.5, "strokeCap": "round", "color": "#2e2e2e", "opacity": 0.85, "clip": true},
   "encoding": {"x2": {"field": "x2"}, "y2": {"field": "y2"}}},
  {"transform": [{"filter": "datum.k==='b'"}], "mark": {"type": "rule", "strokeWidth": 8.5, "strokeCap": "round", "clip": true},
   "encoding": {"x2": {"field": "x2"}, "y2": {"field": "y2"}, "color": {"field": "v", "type": "quantitative",
    "scale": {"type": "linear", "domain": [70,70.1,70.2,70.32,70.41,70.51,70.61,70.72,70.82,70.9,71.0,71.11,71.25,71.45,71.66,71.8,71.91,72.03,72.2,72.32,72.41,72.53,72.7,72.82,72.91,73], "range": ["#efd3ea","#b24f9c","#d98fc1","#a593c6","#5c4c9d","#2e4896","#3152a3","#5b82c8","#8fc5e6","#9fd3d9","#79bf9e","#58a870","#4e9e3a","#5aa842","#98c860","#c9d85f","#e8d040","#eea820","#e08020","#c85a28","#c83028","#c41e26","#b01c28","#d02040","#e07068","#f3bf8f"], "interpolate": "rgb"}, "legend": null}}},
  {"transform": [{"filter": "datum.k==='freeze'"}], "mark": {"type": "rule", "strokeWidth": 2.5, "color": "#8c8c8c", "clip": true},
   "encoding": {"x2": {"field": "x2"}, "y2": {"field": "y2"}}},
  {"data": {"values": [{"t": "d"}]}, "mark": {"type": "text", "font": "Liberation Serif", "fontSize": 21, "color": "black"},
   "encoding": {"x": {"datum": 34.3236}, "y": {"datum": -1.442}, "text": {"field": "t"}}}
 ]
}
]
}
